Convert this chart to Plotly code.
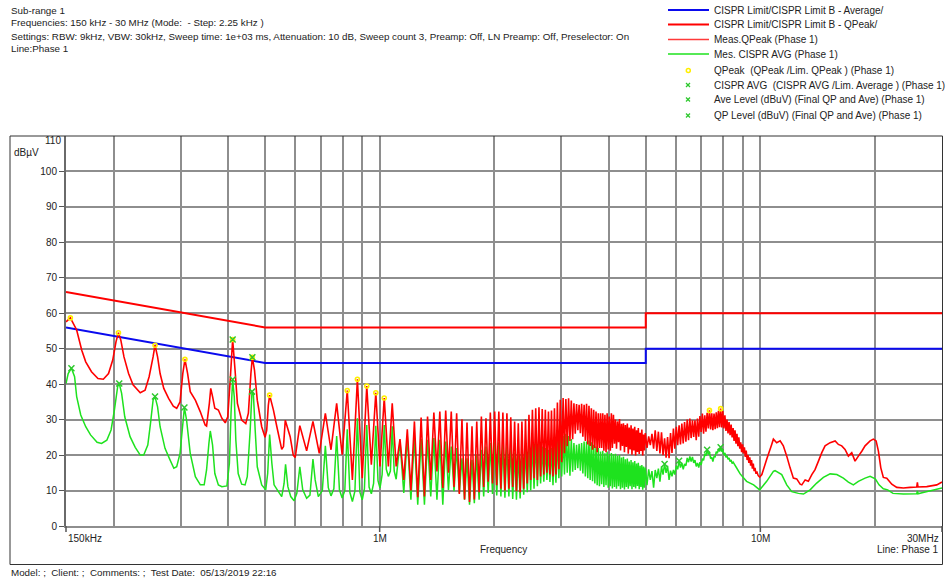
import math
import plotly.graph_objects as go

# ---------------- data (frequency in MHz, level in dBuV) ----------------

# CISPR class B limits
avg_limit_freq = [0.15, 0.5, 5.0, 5.0, 30.0]
avg_limit_level = [56.0, 46.0, 46.0, 50.0, 50.0]
qp_limit_freq = [0.15, 0.5, 5.0, 5.0, 30.0]
qp_limit_level = [66.0, 56.0, 56.0, 60.0, 60.0]

# Quasi-peak sweep, 150 kHz .. 1.5 MHz
qp_freq_low = [
    0.150, 0.154, 0.160, 0.165, 0.169, 0.175, 0.182, 0.188, 0.194, 0.199,
    0.203, 0.206, 0.209, 0.213, 0.219, 0.225, 0.235, 0.242, 0.248, 0.254,
    0.257, 0.261, 0.265, 0.271, 0.279, 0.287, 0.293, 0.299, 0.304, 0.308,
    0.313, 0.318, 0.328, 0.338, 0.348, 0.351, 0.357, 0.360, 0.364, 0.369,
    0.377, 0.385, 0.393, 0.399, 0.405, 0.411, 0.417, 0.423, 0.434, 0.445,
    0.452, 0.459, 0.463, 0.469, 0.477, 0.490, 0.500, 0.505, 0.510, 0.514,
    0.526, 0.537, 0.553, 0.559, 0.565, 0.582, 0.593, 0.600, 0.609, 0.617,
    0.643, 0.668, 0.694, 0.720, 0.745, 0.771, 0.797, 0.822, 0.848, 0.874,
    0.900, 0.925, 0.951, 0.977, 1.002, 1.028, 1.054, 1.079, 1.105, 1.131,
    1.157, 1.182, 1.208, 1.234, 1.259, 1.285, 1.311, 1.336, 1.362, 1.388,
    1.414, 1.439, 1.465, 1.491,
]
qp_level_low = [
    57.6, 58.7, 55.3, 49.6, 46.3, 43.5, 41.6, 41.4, 43.0, 46.8,
    52.0, 54.5, 52.4, 47.7, 43.0, 39.8, 37.6, 38.3, 42.1, 47.7,
    51.0, 47.7, 43.0, 38.8, 36.0, 33.8, 33.2, 35.0, 43.0, 47.0,
    43.0, 37.9, 35.5, 32.2, 28.5, 28.2, 34.6, 38.8, 36.5, 33.2,
    32.7, 30.4, 29.1, 30.8, 41.2, 52.6, 44.0, 34.6, 29.9, 28.9,
    31.8, 43.0, 47.6, 44.0, 35.5, 28.0, 25.0, 27.0, 34.0, 36.9,
    32.7, 28.0, 21.6, 22.4, 29.8, 25.2, 20.0, 19.3, 24.2, 28.3,
    21.2, 29.5, 20.5, 31.8, 21.5, 34.6, 20.1, 38.2, 13.0, 41.4,
    13.5, 39.5, 17.3, 37.6, 16.8, 36.1, 16.8, 34.6, 16.8, 24.5,
    13.0, 27.3, 10.0, 29.5, 8.1, 30.6, 8.3, 30.9, 13.0, 32.0,
    15.4, 32.3, 10.7, 32.6,
]

# CISPR average sweep, 150 kHz .. 1.5 MHz
avg_freq_low = [
    0.150, 0.152, 0.155, 0.158, 0.160, 0.164, 0.169, 0.174, 0.181, 0.186,
    0.192, 0.197, 0.201, 0.205, 0.207, 0.210, 0.214, 0.221, 0.228, 0.235,
    0.240, 0.246, 0.250, 0.254, 0.257, 0.261, 0.265, 0.273, 0.281, 0.288,
    0.293, 0.299, 0.303, 0.307, 0.311, 0.318, 0.328, 0.338, 0.346, 0.351,
    0.356, 0.359, 0.364, 0.369, 0.377, 0.385, 0.397, 0.403, 0.407, 0.411,
    0.415, 0.419, 0.425, 0.434, 0.443, 0.449, 0.457, 0.462, 0.466, 0.471,
    0.477, 0.490, 0.502, 0.508, 0.514, 0.521, 0.528, 0.542, 0.553, 0.561,
    0.566, 0.574, 0.584, 0.596, 0.606, 0.617, 0.628, 0.643, 0.656, 0.668,
    0.677, 0.690, 0.707, 0.720, 0.733, 0.745, 0.758, 0.771, 0.784, 0.797,
    0.810, 0.822, 0.835, 0.848, 0.861, 0.874, 0.887, 0.900, 0.912, 0.925,
    0.938, 0.951, 0.964, 0.977, 0.990, 1.002, 1.015, 1.028, 1.041, 1.054,
    1.067, 1.079, 1.092, 1.105, 1.131, 1.157, 1.182, 1.208, 1.234, 1.259,
    1.285, 1.311, 1.336, 1.362, 1.388, 1.414, 1.439, 1.465, 1.491,
]
avg_level_low = [
    40.2, 43.0, 44.5, 42.1, 36.5, 31.3, 28.0, 25.7, 23.6, 23.3,
    24.2, 27.1, 32.7, 39.3, 40.2, 37.4, 30.8, 25.2, 22.2, 20.0,
    20.0, 22.8, 28.9, 35.5, 36.5, 33.6, 28.0, 21.9, 18.8, 16.3,
    16.7, 20.5, 27.1, 33.4, 29.9, 20.5, 13.9, 11.6, 11.6, 15.8,
    23.3, 26.8, 22.8, 14.8, 11.6, 11.1, 11.3, 17.7, 31.8, 41.3,
    36.5, 24.2, 14.8, 11.8, 11.6, 13.9, 27.1, 37.9, 37.0, 27.1,
    16.7, 11.6, 10.2, 14.8, 25.8, 17.7, 11.6, 9.7, 8.3, 12.0,
    17.4, 11.1, 8.3, 7.1, 9.2, 16.7, 10.2, 7.8, 8.7, 18.9,
    13.0, 8.3, 10.0, 22.6, 10.8, 8.5, 10.5, 25.4, 10.2, 7.9,
    10.0, 27.3, 9.5, 6.9, 9.8, 30.4, 9.6, 7.4, 10.5, 28.5,
    11.0, 9.1, 12.0, 28.3, 12.8, 10.7, 14.5, 28.5, 16.0, 14.0,
    15.5, 28.1, 15.5, 13.2, 23.8, 9.3, 25.2, 7.4, 24.8, 6.0,
    24.5, 6.0, 24.3, 8.3, 24.8, 7.4, 24.3, 6.0, 23.8,
]

# Harmonic comb 1.5 .. 5 MHz: dip / peak pairs
comb_freq = [
    1.516, 1.542, 1.568, 1.593, 1.619, 1.645, 1.671, 1.696, 1.722, 1.748,
    1.773, 1.799, 1.825, 1.850, 1.876, 1.902, 1.928, 1.953, 1.979, 2.005,
    2.030, 2.056, 2.082, 2.107, 2.133, 2.159, 2.185, 2.210, 2.236, 2.262,
    2.287, 2.313, 2.339, 2.364, 2.390, 2.416, 2.442, 2.467, 2.493, 2.519,
    2.544, 2.570, 2.596, 2.621, 2.647, 2.673, 2.699, 2.724, 2.750, 2.776,
    2.801, 2.827, 2.853, 2.878, 2.904, 2.930, 2.956, 2.981, 3.007, 3.033,
    3.058, 3.084, 3.110, 3.135, 3.161, 3.187, 3.213, 3.238, 3.264, 3.290,
    3.315, 3.341, 3.367, 3.392, 3.418, 3.444, 3.470, 3.495, 3.521, 3.547,
    3.572, 3.598, 3.624, 3.649, 3.675, 3.701, 3.727, 3.752, 3.778, 3.804,
    3.829, 3.855, 3.881, 3.906, 3.932, 3.958, 3.984, 4.009, 4.035, 4.061,
    4.086, 4.112, 4.138, 4.163, 4.189, 4.215, 4.241, 4.266, 4.292, 4.318,
    4.343, 4.369, 4.395, 4.420, 4.446, 4.472, 4.498, 4.523, 4.549, 4.575,
    4.600, 4.626, 4.652, 4.677, 4.703, 4.729, 4.755, 4.780, 4.806, 4.832,
    4.857, 4.883, 4.909, 4.934, 4.960, 4.986,
]
qp_level_comb = [
    15.0, 32.3, 11.0, 31.8, 9.0, 30.1, 7.5, 29.2, 6.8, 28.1,
    7.5, 29.5, 9.5, 30.9, 11.0, 30.4, 12.5, 32.0, 12.0, 32.3,
    11.5, 32.3, 10.5, 32.0, 10.0, 31.8, 10.5, 30.7, 11.0, 29.5,
    9.8, 29.0, 9.5, 29.5, 10.5, 30.1, 12.0, 31.4, 13.0, 32.8,
    13.5, 33.2, 13.0, 33.5, 14.0, 33.0, 14.5, 32.8, 15.0, 32.3,
    14.5, 32.6, 14.0, 33.2, 14.5, 34.8, 16.0, 35.6, 18.0, 36.1,
    20.5, 35.8, 22.5, 36.0, 24.0, 35.4, 24.5, 34.6, 26.0, 34.4,
    27.0, 34.2, 26.2, 34.5, 25.2, 34.2, 24.0, 34.5, 23.0, 33.9,
    22.6, 33.2, 21.5, 32.8, 22.0, 32.3, 20.8, 31.8, 22.0, 31.8,
    22.0, 31.8, 21.2, 31.4, 20.8, 31.8, 21.6, 30.9, 21.2, 31.8,
    22.0, 31.4, 23.2, 30.0, 21.8, 29.5, 23.6, 30.2, 21.3, 28.8,
    22.6, 29.0, 20.8, 28.5, 22.3, 28.9, 20.4, 27.8, 21.6, 28.4,
    20.1, 27.5, 21.3, 28.0, 19.9, 27.0, 20.9, 27.6, 20.3, 26.3,
    21.2, 27.2, 19.9, 25.8, 21.3, 26.2,
]
avg_level_comb = [
    10.2, 22.4, 9.8, 22.0, 9.3, 19.1, 7.4, 19.1, 6.0, 18.7,
    6.4, 20.1, 7.4, 21.5, 8.3, 22.4, 9.3, 23.4, 9.0, 23.6,
    8.6, 23.6, 8.3, 23.2, 8.0, 23.0, 8.3, 22.4, 7.6, 20.7,
    7.4, 20.1, 7.8, 20.7, 8.8, 21.6, 9.5, 22.9, 10.0, 23.6,
    10.5, 23.8, 11.2, 23.4, 12.0, 22.4, 12.5, 22.0, 13.0, 21.5,
    12.4, 22.0, 11.5, 22.9, 12.2, 24.3, 13.5, 25.0, 14.0, 25.4,
    14.5, 26.0, 15.0, 25.4, 14.2, 24.5, 15.3, 23.4, 15.8, 22.9,
    16.3, 23.2, 15.6, 23.4, 14.8, 23.8, 14.0, 23.8, 13.5, 24.1,
    13.0, 23.6, 12.6, 22.9, 12.0, 22.4, 11.5, 22.0, 11.2, 21.0,
    11.8, 21.2, 11.0, 20.5, 11.5, 21.0, 10.8, 20.3, 11.2, 20.6,
    10.6, 20.2, 11.0, 20.4, 10.5, 19.8, 11.2, 20.0, 10.4, 19.3,
    10.8, 19.5, 10.3, 18.8, 11.0, 19.0, 10.5, 18.2, 11.2, 18.6,
    10.4, 18.0, 11.0, 18.3, 10.6, 17.6, 11.3, 17.8, 10.4, 17.0,
    11.0, 17.2, 10.2, 16.8, 10.8, 16.5,
]

# Dense band 5 .. 8.5 MHz
band_freq = [
    5.037, 5.089, 5.140, 5.191, 5.243, 5.294, 5.346, 5.397, 5.448, 5.500,
    5.551, 5.603, 5.654, 5.705, 5.757, 5.808, 5.860, 5.911, 5.962, 6.014,
    6.065, 6.117, 6.168, 6.219, 6.271, 6.322, 6.374, 6.425, 6.476, 6.528,
    6.579, 6.631, 6.682, 6.733, 6.785, 6.836, 6.888, 6.939, 6.990, 7.042,
    7.093, 7.145, 7.196, 7.247, 7.299, 7.350, 7.402, 7.453, 7.504, 7.556,
    7.607, 7.659, 7.710, 7.761, 7.813, 7.864, 7.916, 7.967, 8.018, 8.070,
    8.121, 8.173, 8.224, 8.275, 8.327, 8.378, 8.430, 8.481,
]
qp_level_band = [
    22.0, 25.3, 22.8, 26.0, 21.8, 27.0, 21.2, 26.6, 20.5, 26.4,
    20.0, 24.7, 19.3, 25.1, 19.1, 26.2, 20.6, 27.5, 21.8, 28.0,
    22.8, 28.4, 23.0, 28.9, 23.3, 29.3, 23.8, 30.0, 24.2, 30.3,
    24.8, 29.8, 25.1, 29.8, 24.2, 30.3, 25.2, 31.0, 26.5, 31.7,
    26.0, 31.2, 26.6, 31.9, 27.5, 32.6, 27.2, 31.8, 27.0, 31.7,
    27.3, 32.1, 27.6, 32.5, 27.9, 33.1, 27.8, 32.4, 27.5, 31.2,
    26.8, 30.0, 26.1, 29.3, 25.6, 28.6, 25.0, 27.6,
]
avg_level_band = [
    11.5, 16.0, 13.0, 15.5, 10.8, 15.8, 13.5, 16.2, 12.5, 16.8,
    14.5, 17.5, 15.0, 17.0, 13.0, 15.6, 14.0, 15.8, 14.5, 17.0,
    16.0, 18.4, 16.5, 17.8, 16.0, 17.5, 17.0, 19.2, 18.0, 19.6,
    18.2, 19.5, 17.8, 18.6, 16.8, 17.8, 16.5, 18.0, 17.2, 19.0,
    18.5, 20.4, 19.8, 21.5, 20.2, 20.8, 19.0, 19.4, 18.2, 19.6,
    19.5, 21.0, 20.5, 21.8, 21.0, 22.2, 21.0, 21.4, 20.0, 20.6,
    19.4, 19.8, 18.8, 19.2, 18.2, 18.6, 17.6, 18.0,
]

# Upper range 8.5 .. 30 MHz
qp_freq_high = [
    8.53, 8.58, 8.63, 8.68, 8.73, 8.78, 8.83, 8.88, 8.93, 8.98,
    9.03, 9.08, 9.13, 9.18, 9.23, 9.28, 9.33, 9.38, 9.43, 9.48,
    9.53, 9.58, 9.63, 9.68, 9.73, 9.80, 9.87, 9.96, 10.09, 10.39,
    10.71, 10.82, 11.04, 11.27, 11.49, 11.73, 11.97, 12.21, 12.46, 12.72,
    12.85, 13.11, 13.37, 13.65, 13.92, 14.21, 14.50, 14.79, 15.25, 15.72,
    16.03, 16.36, 16.69, 17.03, 17.38, 17.73, 18.09, 18.47, 18.84, 19.42,
    19.81, 20.14, 20.42, 20.72, 21.04, 21.48, 22.14, 22.82, 23.75, 24.73,
    25.75, 25.85, 25.95, 27.36, 29.06, 30.0,
]
qp_level_high = [
    24.0, 27.0, 23.2, 26.0, 22.5, 25.0, 21.8, 23.6, 20.8, 23.0,
    20.5, 22.2, 19.5, 21.3, 18.6, 20.0, 17.8, 19.4, 17.0, 18.6,
    16.2, 17.6, 15.5, 16.4, 15.0, 15.2, 14.2, 13.8, 14.5, 18.8,
    23.0, 24.5, 23.5, 24.0, 22.6, 19.7, 16.4, 13.5, 13.3, 11.8,
    11.6, 13.0, 12.6, 14.5, 15.9, 18.3, 20.7, 22.6, 23.5, 24.0,
    23.0, 22.6, 21.6, 19.7, 20.7, 18.3, 19.7, 21.1, 22.6, 24.0,
    24.5, 24.0, 21.1, 16.4, 13.7, 13.5, 11.8, 10.9, 10.7, 10.9,
    11.0, 12.3, 11.0, 11.1, 11.6, 12.4,
]
avg_freq_high = [
    8.65, 8.85, 9.2, 9.6, 9.96, 10.39, 10.82, 10.93, 11.38, 11.73,
    12.09, 12.59, 12.98, 13.51, 14.06, 14.64, 15.25, 15.88, 16.52, 17.03,
    17.55, 18.09, 18.84, 19.42, 20.04, 20.5, 21.04, 21.6, 22.3, 23.75,
    25.75, 25.85, 25.95, 26.6, 30.0,
]
avg_level_high = [
    16.5, 14.7, 12.6, 11.6, 10.2, 12.6, 15.4, 15.6, 14.5, 11.6,
    9.7, 9.2, 9.0, 10.2, 12.1, 13.7, 14.7, 14.5, 13.5, 12.4,
    11.6, 12.6, 13.5, 14.0, 13.3, 11.6, 10.5, 10.2, 9.2, 9.0,
    9.1, 9.9, 9.1, 9.4, 10.7,
]

# Final measurement markers
qpeak_mark_freq = [0.154, 0.206, 0.257, 0.308, 0.411, 0.463, 0.514,
                   0.822, 0.874, 0.925, 0.977, 1.028, 7.350, 7.864]
qpeak_mark_level = [58.7, 54.5, 51.0, 47.0, 52.6, 47.6, 36.9,
                    38.2, 41.4, 39.5, 37.6, 36.1, 32.6, 33.1]
avg_mark_freq = [0.155, 0.207, 0.257, 0.307, 0.411, 0.462,
                 5.603, 6.117, 7.247, 7.864]
avg_mark_level = [44.5, 40.2, 36.5, 33.4, 41.3, 37.9,
                  17.5, 18.4, 21.5, 22.2]
qp_final_freq = [0.411, 0.463]
qp_final_level = [52.6, 47.6]

# Axis labelling
grid_freqs = [0.2, 0.3, 0.4, 0.5, 0.6, 0.7, 0.8, 0.9,
              1, 2, 3, 4, 5, 6, 7, 8, 9, 10, 20]
x_tick_freqs = [0.15, 1, 10, 30]
x_tick_text = ["150kHz", "1M", "10M", "30MHz"]
y_ticks = [0, 10, 20, 30, 40, 50, 60, 70, 80, 90, 100]

header_lines = [
    "Sub-range 1",
    "Frequencies: 150 kHz - 30 MHz (Mode:  - Step: 2.25 kHz )",
    "Settings: RBW: 9kHz, VBW: 30kHz, Sweep time: 1e+03 ms, Attenuation: 10 dB, "
    "Sweep count 3, Preamp: Off, LN Preamp: Off, Preselector: On",
    "Line:Phase 1",
]
legend_labels = [
    "CISPR Limit/CISPR Limit B - Average/",
    "CISPR Limit/CISPR Limit B - QPeak/",
    "Meas.QPeak (Phase 1)",
    "Mes. CISPR AVG (Phase 1)",
    "QPeak  (QPeak /Lim. QPeak ) (Phase 1)",
    "CISPR AVG  (CISPR AVG /Lim. Average ) (Phase 1)",
    "Ave Level (dBuV) (Final QP and Ave) (Phase 1)",
    "QP Level (dBuV) (Final QP and Ave) (Phase 1)",
]
footer_text = "Model: ;  Client: ;  Comments: ;  Test Date:  05/13/2019 22:16"

# ---------------- styling / geometry ----------------
FONT = "Liberation Sans, Arial, sans-serif"
TXT = "#222222"
BLUE = "#0a0aee"
RED = "#ff0000"
GREEN = "#1ee21e"
YELLOW = "#ffee00"
XGREEN = "#2ec82e"
GRID = "#8e8e8e"

W, H = 947, 582
ML, MR, MT, MB = 66, 5, 136, 56
PW = W - ML - MR
PH = H - MT - MB
F_LO, F_HI = 0.15, 30.0


def xp(px):
    return (px - ML) / PW


def yp(py):
    return (H - MB - py) / PH


def xf(f):
    return (math.log10(f) - math.log10(F_LO)) / (math.log10(F_HI) - math.log10(F_LO))


def label(text, x, y, anchor="left", size=10):
    return dict(text=text, x=x, y=y, xref="paper", yref="paper",
                xanchor=anchor, yanchor="middle", showarrow=False,
                font=dict(family=FONT, size=size, color=TXT))


qp_freq = qp_freq_low + comb_freq + band_freq + qp_freq_high
qp_level = qp_level_low + qp_level_comb + qp_level_band + qp_level_high
avg_freq = avg_freq_low + comb_freq + band_freq + avg_freq_high
avg_level = avg_level_low + avg_level_comb + avg_level_band + avg_level_high

fig = go.Figure()
fig.add_trace(go.Scatter(x=avg_limit_freq, y=avg_limit_level, mode="lines",
                         line=dict(color=BLUE, width=2), hoverinfo="skip"))
fig.add_trace(go.Scatter(x=qp_limit_freq, y=qp_limit_level, mode="lines",
                         line=dict(color=RED, width=2), hoverinfo="skip"))
# average trace first, quasi-peak trace drawn over it
fig.add_trace(go.Scatter(x=avg_freq, y=avg_level, mode="lines",
                         line=dict(color=GREEN, width=1.5, simplify=False),
                         hoverinfo="skip"))
fig.add_trace(go.Scatter(x=qp_freq, y=qp_level, mode="lines",
                         line=dict(color=RED, width=1.6, simplify=False),
                         hoverinfo="skip"))
fig.add_trace(go.Scatter(x=qpeak_mark_freq, y=qpeak_mark_level, mode="markers",
                         marker=dict(symbol="circle-open", size=4, color=YELLOW,
                                     line=dict(width=1.6, color=YELLOW)),
                         hoverinfo="skip"))
fig.add_trace(go.Scatter(x=avg_mark_freq + qp_final_freq,
                         y=avg_mark_level + qp_final_level, mode="markers",
                         marker=dict(symbol="x-thin-open", size=6, color=XGREEN,
                                     line=dict(width=1.5, color=XGREEN)),
                         hoverinfo="skip"))

shapes = []
annotations = []

# outer frame
shapes.append(dict(type="rect", xref="paper", yref="paper",
                   x0=xp(10), x1=xp(942.5), y0=yp(564.5), y1=yp(136),
                   line=dict(color="#333333", width=1)))

# x-axis tick marks below the plot
for f in x_tick_freqs:
    shapes.append(dict(type="line", xref="paper", yref="paper",
                       x0=xf(f), x1=xf(f), y0=yp(526), y1=yp(532),
                       line=dict(color="#555555", width=1.5)))

# x tick labels
anchors = ["left", "center", "center", "right"]
for f, t, a in zip(x_tick_freqs, x_tick_text, anchors):
    xx = xf(f) if a != "right" else xf(f) - 1.0 / PW
    annotations.append(label(t, xx, yp(538.5), a))

annotations.append(label("Frequency", xp(503), yp(549), "center"))
annotations.append(label("Line: Phase 1", xp(941), yp(549), "right"))
annotations.append(label("dBµV", xp(12), yp(152)))
annotations.append(label("110", xp(62.5), yp(140), "right"))
annotations.append(label(footer_text, xp(9), yp(572), size=9.8))

# header block
for i, line in enumerate(header_lines):
    annotations.append(label(line, xp(9), yp(10 + 13 * i), size=9.8))

# legend block
legend_rows = [10, 24.5, 39.5, 54, 70.5, 85, 99.5, 115.5]
legend_lines = [(BLUE, 2), (RED, 2), ("#ff3a3a", 1.5), (GREEN, 1.5)]
for (col, wid), ry in zip(legend_lines, legend_rows[:4]):
    shapes.append(dict(type="line", xref="paper", yref="paper",
                       x0=xp(668), x1=xp(709), y0=yp(ry), y1=yp(ry),
                       line=dict(color=col, width=wid)))
shapes.append(dict(type="circle", xref="paper", yref="paper",
                   x0=xp(686.3), x1=xp(690.3), y0=yp(72.5), y1=yp(68.5),
                   line=dict(color=YELLOW, width=1.5)))
for ry in legend_rows[5:]:
    for a, b in ((-2, 2), (2, -2)):
        shapes.append(dict(type="line", xref="paper", yref="paper",
                           x0=xp(686), x1=xp(690), y0=yp(ry + a), y1=yp(ry + b),
                           line=dict(color=XGREEN, width=1.3)))
for text, ry in zip(legend_labels, legend_rows):
    annotations.append(label(text, xp(712), yp(ry)))

fig.update_layout(
    width=W, height=H,
    margin=dict(l=ML, r=MR, t=MT, b=MB, pad=0),
    paper_bgcolor="white", plot_bgcolor="white",
    showlegend=False,
    font=dict(family=FONT, size=10, color=TXT),
    shapes=shapes,
    annotations=annotations,
    xaxis=dict(type="log", range=[math.log10(F_LO), math.log10(F_HI)],
               tickvals=grid_freqs, showticklabels=False, ticks="",
               showgrid=True, gridcolor=GRID, gridwidth=2,
               showline=True, linecolor=GRID, linewidth=2,
               zeroline=False, fixedrange=True),
    yaxis=dict(range=[0, 110], tickvals=y_ticks, ticks="outside", ticklen=5,
               tickwidth=1, tickcolor="#555555",
               tickfont=dict(family=FONT, size=10, color=TXT),
               showgrid=True, gridcolor=GRID, gridwidth=2,
               showline=True, linecolor="#6a6a6a", linewidth=2,
               zeroline=False, fixedrange=True),
)

fig.write_html("out.html")
